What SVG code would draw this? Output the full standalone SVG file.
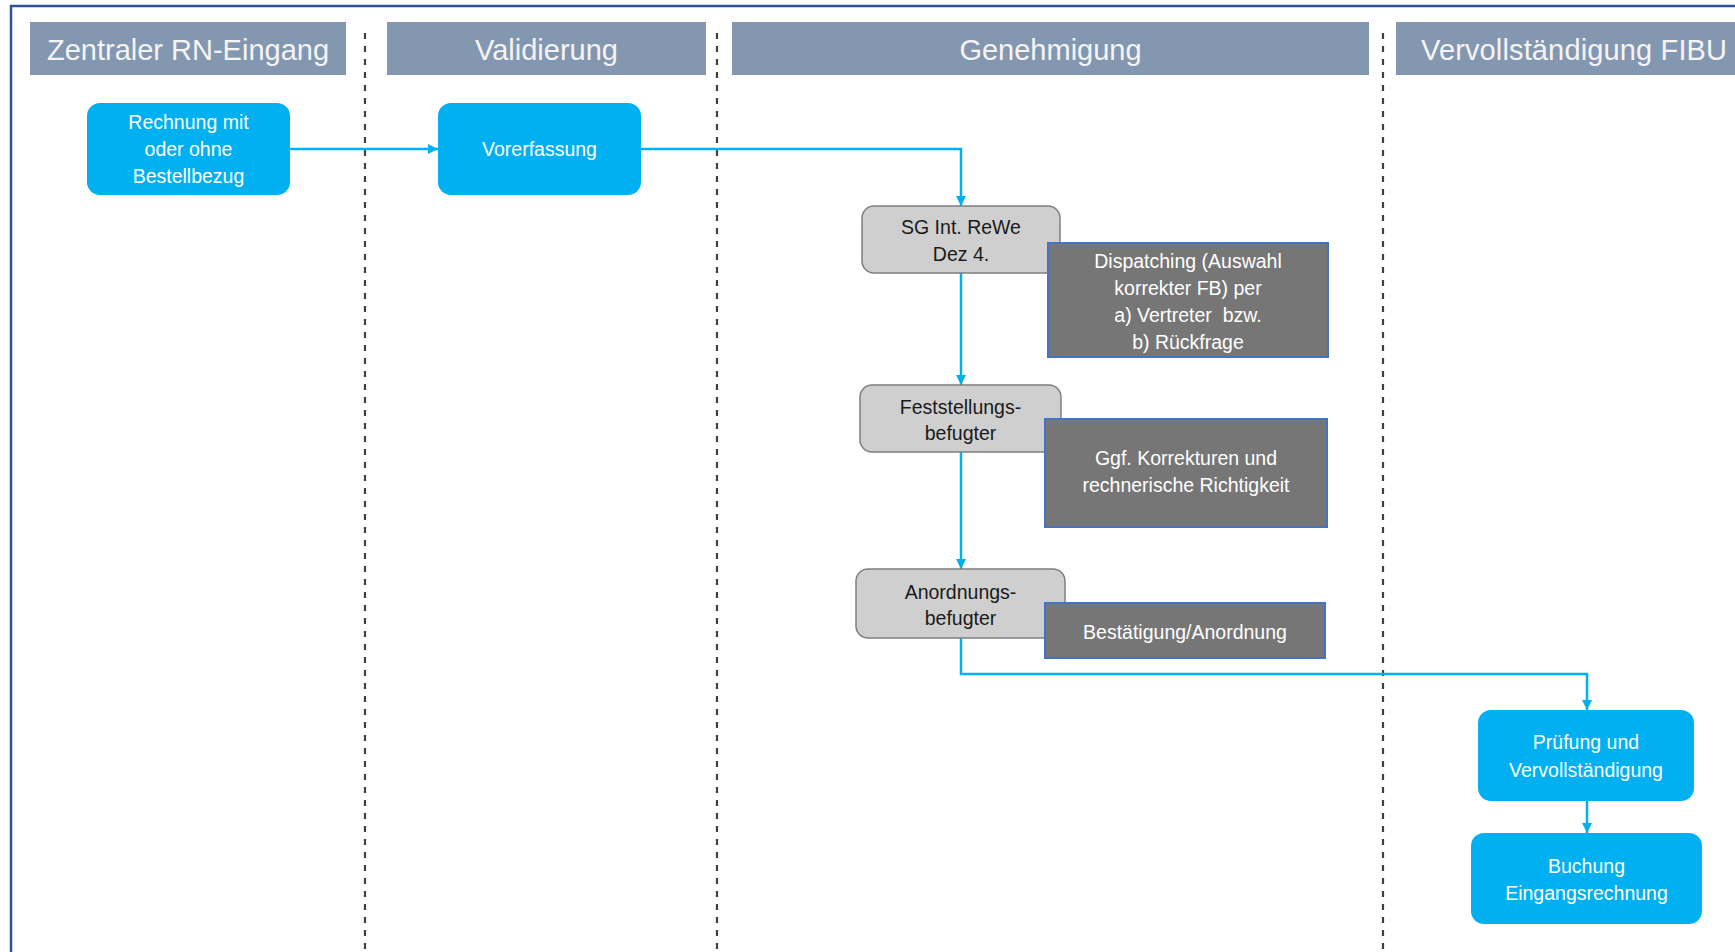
<svg xmlns="http://www.w3.org/2000/svg" width="1735" height="952" viewBox="0 0 1735 952">
<defs>
<style>
.hdr{fill:#8497b0;}
.htxt{font-family:"Liberation Sans",Arial,sans-serif;font-size:29px;fill:#f4f4f4;text-anchor:middle;}
.lane{stroke:#404040;stroke-width:2.2;stroke-dasharray:6 7;fill:none;}
.blue{fill:#00b0f0;}
.gray{fill:#d0cfcf;stroke:#7f7f7f;stroke-width:1.5;}
.dark{fill:#767676;stroke:#4472c4;stroke-width:2;}
.wt{font-family:"Liberation Sans",Arial,sans-serif;font-size:19.5px;fill:#ffffff;text-anchor:middle;white-space:pre;}
.bt{font-family:"Liberation Sans",Arial,sans-serif;font-size:19.5px;fill:#1a1a1a;text-anchor:middle;}
.conn{stroke:#00b0f0;stroke-width:2.5;fill:none;}
</style>
<marker id="arr" viewBox="0 0 10 10" refX="10" refY="5" markerWidth="10" markerHeight="10" markerUnits="userSpaceOnUse" orient="auto">
<path d="M0,0 L10,5 L0,10 z" fill="#00b0f0"/>
</marker>
</defs>
<rect x="0" y="0" width="1735" height="952" fill="#ffffff"/>
<rect x="11" y="6" width="1740" height="960" fill="none" stroke="#2f5597" stroke-width="2.5"/>

<g id="lanes">
<g id="lane-zentral"><rect class="hdr" x="30" y="22" width="316" height="53"/><text class="htxt" x="188" y="60">Zentraler RN-Eingang</text></g>
<g id="lane-validierung"><rect class="hdr" x="387" y="22" width="319" height="53"/><text class="htxt" x="546.5" y="60">Validierung</text></g>
<g id="lane-genehmigung"><rect class="hdr" x="732" y="22" width="637" height="53"/><text class="htxt" x="1050.5" y="60">Genehmigung</text></g>
<g id="lane-fibu"><rect class="hdr" x="1396" y="22" width="345" height="53"/><text class="htxt" x="1421" y="60" textLength="306" lengthAdjust="spacing" style="text-anchor:start">Vervollständigung FIBU</text></g>
<line class="lane" x1="365" y1="33" x2="365" y2="952"/>
<line class="lane" x1="717" y1="33" x2="717" y2="952"/>
<line class="lane" x1="1383" y1="33" x2="1383" y2="952"/>
</g>

<g id="connectors">
<path class="conn" d="M290,149 L438,149" marker-end="url(#arr)"/>
<path class="conn" d="M641,149 L961,149 L961,206" marker-end="url(#arr)"/>
<path class="conn" d="M961,273 L961,385" marker-end="url(#arr)"/>
<path class="conn" d="M961,452 L961,569" marker-end="url(#arr)"/>
<path class="conn" d="M961,638 L961,674 L1587,674 L1587,710" marker-end="url(#arr)"/>
<path class="conn" d="M1587,801 L1587,833" marker-end="url(#arr)"/>
</g>

<g id="n-rechnung"><rect class="blue" x="87" y="103" width="203" height="92" rx="13"/>
<text class="wt" x="188.5" y="129">Rechnung mit</text><text class="wt" x="188.5" y="156">oder ohne</text><text class="wt" x="188.5" y="183">Bestellbezug</text></g>

<g id="n-vorerfassung"><rect class="blue" x="438" y="103" width="203" height="92" rx="13"/>
<text class="wt" x="539.5" y="156">Vorerfassung</text></g>

<g id="n-sg"><rect class="gray" x="862" y="206" width="198" height="67" rx="12"/>
<text class="bt" x="961" y="234">SG Int. ReWe</text><text class="bt" x="961" y="261">Dez 4.</text></g>

<g id="n-dispatching"><rect class="dark" x="1048" y="243" width="280" height="114"/>
<text class="wt" x="1188" y="268">Dispatching (Auswahl</text><text class="wt" x="1188" y="295">korrekter FB) per</text><text class="wt" x="1188" y="322" xml:space="preserve">a) Vertreter  bzw.</text><text class="wt" x="1188" y="349">b) Rückfrage</text></g>

<g id="n-feststellung"><rect class="gray" x="860" y="385" width="201" height="67" rx="12"/>
<text class="bt" x="960.5" y="414">Feststellungs-</text><text class="bt" x="960.5" y="440">befugter</text></g>

<g id="n-korrekturen"><rect class="dark" x="1045" y="419" width="282" height="108"/>
<text class="wt" x="1186" y="465">Ggf. Korrekturen und</text><text class="wt" x="1186" y="492">rechnerische Richtigkeit</text></g>

<g id="n-anordnung"><rect class="gray" x="856" y="569" width="209" height="69" rx="12"/>
<text class="bt" x="960.5" y="599">Anordnungs-</text><text class="bt" x="960.5" y="625">befugter</text></g>

<g id="n-bestaetigung"><rect class="dark" x="1045" y="603" width="280" height="55"/>
<text class="wt" x="1185" y="639">Bestätigung/Anordnung</text></g>

<g id="n-pruefung"><rect class="blue" x="1478" y="710" width="216" height="91" rx="13"/>
<text class="wt" x="1586" y="749">Prüfung und</text><text class="wt" x="1586" y="777">Vervollständigung</text></g>

<g id="n-buchung"><rect class="blue" x="1471" y="833" width="231" height="91" rx="13"/>
<text class="wt" x="1586.5" y="873">Buchung</text><text class="wt" x="1586.5" y="900">Eingangsrechnung</text></g>
</svg>
